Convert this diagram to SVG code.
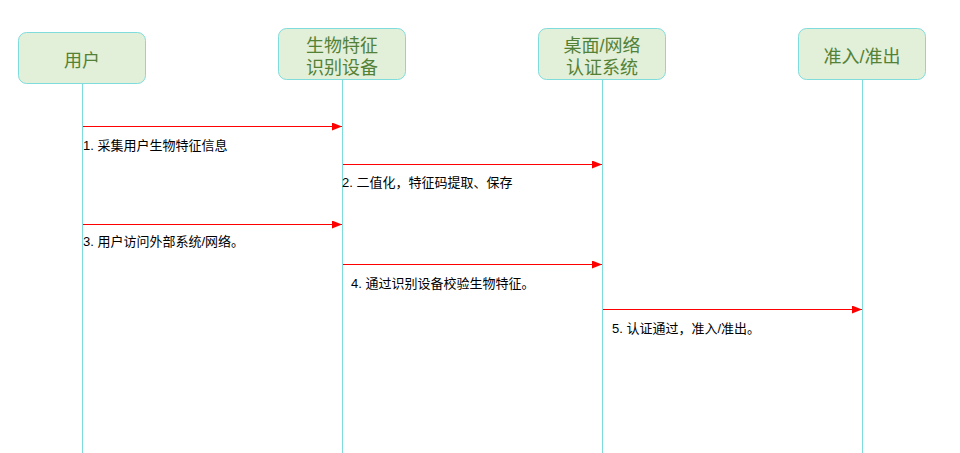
<svg xmlns="http://www.w3.org/2000/svg" width="960" height="453" viewBox="0 0 960 453">
<style>
.box{fill:#e2efd9;stroke:#7fdcdc;stroke-width:1}
.bt{font-family:"Liberation Sans","Noto Sans CJK SC",sans-serif;font-size:18px;fill:#538135;text-anchor:middle}
.life{stroke:#7fdcdc;stroke-width:1;fill:none}
.msg{stroke:#ff0000;stroke-width:1;fill:none;marker-end:url(#ah)}
.lbl{font-family:"Liberation Sans","Noto Sans CJK SC",sans-serif;font-size:13px;fill:#000}
</style>
<defs>
<marker id="ah" markerWidth="10" markerHeight="8" refX="10" refY="4" orient="auto" markerUnits="userSpaceOnUse">
<path d="M0,0 L10,4 L0,8 Z" fill="#ff0000"/>
</marker>
</defs>
<rect width="960" height="453" fill="#fff"/>
<g id="lifelines">
<line class="life" x1="82.5" y1="84" x2="82.5" y2="453"/>
<line class="life" x1="342.5" y1="80" x2="342.5" y2="453"/>
<line class="life" x1="602.5" y1="80" x2="602.5" y2="453"/>
<line class="life" x1="862.5" y1="80" x2="862.5" y2="453"/>
</g>
<g id="user">
<rect class="box" x="18.5" y="32.5" width="127" height="51" rx="8"/>
<text class="bt" x="82" y="66.5">用户</text>
</g>
<g id="bio">
<rect class="box" x="278.5" y="28.5" width="127" height="51" rx="8"/>
<text class="bt" x="342" y="52">生物特征</text>
<text class="bt" x="342" y="74">识别设备</text>
</g>
<g id="auth">
<rect class="box" x="538.5" y="28.5" width="127" height="51" rx="8"/>
<text class="bt" x="602" y="52">桌面/网络</text>
<text class="bt" x="602" y="74">认证系统</text>
</g>
<g id="access">
<rect class="box" x="798.5" y="28.5" width="127" height="51" rx="8"/>
<text class="bt" x="862" y="63">准入/准出</text>
</g>
<g id="connectors">
<line class="msg" x1="83" y1="126.5" x2="342" y2="126.5"/>
<line class="msg" x1="343" y1="164.5" x2="602" y2="164.5"/>
<line class="msg" x1="83" y1="224.5" x2="342" y2="224.5"/>
<line class="msg" x1="343" y1="264.5" x2="602" y2="264.5"/>
<line class="msg" x1="603" y1="309.5" x2="862" y2="309.5"/>
</g>
<g id="labels">
<text class="lbl" x="83" y="149.5">1. 采集用户生物特征信息</text>
<text class="lbl" x="342" y="186.5">2. 二值化，特征码提取、保存</text>
<text class="lbl" x="83" y="245.5">3. 用户访问外部系统/网络。</text>
<text class="lbl" x="351" y="287.5">4. 通过识别设备校验生物特征。</text>
<text class="lbl" x="612" y="332.5">5. 认证通过，准入/准出。</text>
</g>
</svg>
